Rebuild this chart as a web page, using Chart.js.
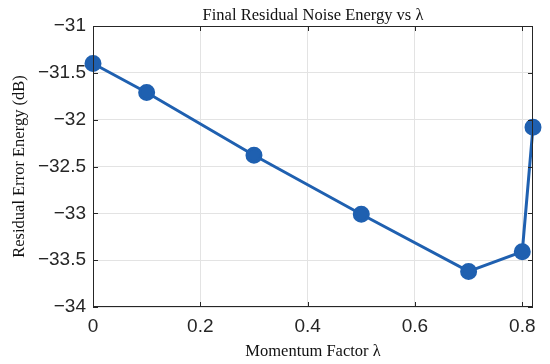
<!DOCTYPE html>
<html>
<head>
<meta charset="utf-8">
<script src="https://cdn.jsdelivr.net/npm/chart.js@4/dist/chart.umd.min.js"></script>
<style>
  html, body { margin: 0; padding: 0; background: #fff; }
  #wrap { width: 550px; height: 364px; position: relative; }
</style>
</head>
<body>
<div id="wrap"><canvas id="c"></canvas></div>
<script>
// data
const lambdas = [0, 0.1, 0.3, 0.5, 0.7, 0.8, 0.82];
const residualDb = [-31.40, -31.71, -32.38, -33.01, -33.62, -33.41, -32.08];
const xTicks = [0, 0.2, 0.4, 0.6, 0.8];
const yTicks = [-34, -33.5, -33, -32.5, -32, -31.5, -31];

const lineBlue = '#1f60b0';
const axisDark = '#262626';
const serif = '"Liberation Serif", "Times New Roman", serif';

const minus = v => String(v).replace('-', '\u2212');

// box, inward tick marks and the title (MATLAB look)
const boxPlugin = {
    id: 'box',
    afterDraw(chart) {
        const { ctx, chartArea: a, scales } = chart;
        ctx.save();
        ctx.strokeStyle = axisDark;
        ctx.lineWidth = 1;
        ctx.strokeRect(a.left + 0.5, a.top + 0.5, a.right - a.left - 1, a.bottom - a.top - 1);
        ctx.beginPath();
        xTicks.forEach(v => {
            const px = Math.round(scales.x.getPixelForValue(v)) + 0.5;
            ctx.moveTo(px, a.bottom); ctx.lineTo(px, a.bottom - 5);
            ctx.moveTo(px, a.top); ctx.lineTo(px, a.top + 5);
        });
        yTicks.forEach(v => {
            const py = Math.round(scales.y.getPixelForValue(v)) + 0.5;
            ctx.moveTo(a.left, py); ctx.lineTo(a.left + 5, py);
            ctx.moveTo(a.right, py); ctx.lineTo(a.right - 5, py);
        });
        ctx.stroke();
        ctx.fillStyle = '#111';
        ctx.font = '16.5px ' + serif;
        ctx.textAlign = 'center';
        ctx.textBaseline = 'middle';
        ctx.fillText('Final Residual Noise Energy vs \u03bb', (a.left + a.right) / 2, 16);
        ctx.restore();
    }
};

new Chart(document.getElementById('c').getContext('2d'), {
    type: 'line',
    data: {
        labels: lambdas,
        datasets: [{
            data: lambdas.map((x, i) => ({ x: x, y: residualDb[i] })),
            borderColor: lineBlue,
            backgroundColor: lineBlue,
            borderWidth: 3,
            pointRadius: 7,
            pointHoverRadius: 7,
            pointBackgroundColor: lineBlue,
            pointBorderColor: lineBlue,
            tension: 0,
            clip: false
        }]
    },
    options: {
        responsive: true,
        maintainAspectRatio: false,
        animation: false,
        layout: { padding: { left: 0, right: 17, top: 26, bottom: 0 } },
        plugins: {
            legend: { display: false },
            tooltip: { enabled: false }
        },
        scales: {
            x: {
                type: 'linear',
                min: 0,
                max: 0.82,
                afterBuildTicks: s => { s.ticks = xTicks.map(v => ({ value: v })); },
                afterFit: s => { s.height = 57; },
                grid: { color: '#e3e3e3', drawTicks: false },
                border: { display: false },
                ticks: {
                    padding: 8,
                    color: '#262626',
                    font: { family: '"Liberation Sans", Arial, sans-serif', size: 19 },
                    callback: v => minus(v)
                },
                title: {
                    display: true,
                    text: 'Momentum Factor \u03bb',
                    color: '#111',
                    font: { family: serif, size: 16.5 },
                    padding: { top: 0, bottom: 2 }
                }
            },
            y: {
                min: -34,
                max: -31,
                afterBuildTicks: s => { s.ticks = yTicks.map(v => ({ value: v })); },
                afterFit: s => { s.width = 93; },
                grid: { color: '#e3e3e3', drawTicks: false },
                border: { display: false },
                ticks: {
                    padding: 7,
                    color: '#262626',
                    font: { family: '"Liberation Sans", Arial, sans-serif', size: 19 },
                    callback: v => minus(v)
                },
                title: {
                    display: true,
                    text: 'Residual Error Energy (dB)',
                    color: '#111',
                    font: { family: serif, size: 16.5 },
                    padding: { top: 10, bottom: 0 }
                }
            }
        }
    },
    plugins: [boxPlugin]
});
</script>
</body>
</html>
